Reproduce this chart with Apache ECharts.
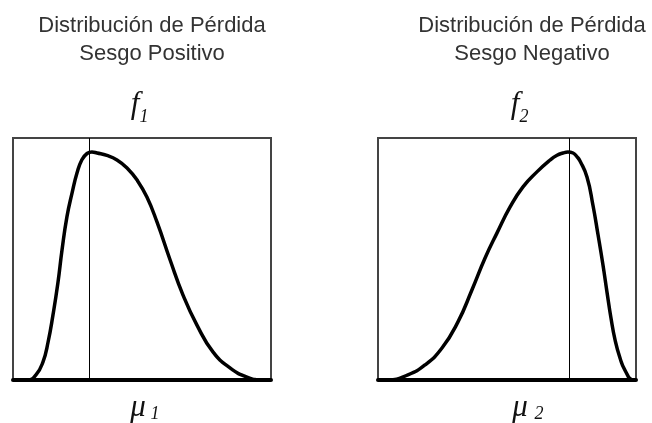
<!DOCTYPE html>
<html>
<head>
<meta charset="utf-8">
<script src="https://cdn.jsdelivr.net/npm/echarts@6/dist/echarts.min.js"></script>
<style>
  html, body { margin: 0; padding: 0; background: #fff; }
  #chart { width: 652px; height: 423px; }
</style>
</head>
<body>
<div id="chart"></div>
<script>
// positive skew (f1) curve, x and y in 0..100 of the box
const posX = [0, 5.8, 8.9, 11.6, 13.6, 15.5, 17.4, 19.0, 20.9, 22.9, 24.8, 26.7, 28.7, 30.6, 32.6, 36.4, 40.3, 44.2, 48.1, 51.9, 55.8, 60.9, 65.9, 71.3, 77.5, 84.1, 90.7, 96.9, 100];
const posY = [0, 0, 2.1, 7.4, 15.7, 26.9, 40.1, 53.7, 67.4, 77.3, 85.5, 91.0, 93.6, 94.2, 93.8, 92.8, 90.9, 87.6, 82.6, 75.6, 65.3, 49.6, 35.1, 22.7, 11.6, 5.0, 1.2, 0, 0];
// negative skew (f2) curve
const negX = [0, 3.9, 11.6, 18.2, 24.8, 31.0, 36.4, 41.5, 46.1, 51.2, 56.2, 61.6, 66.7, 69.4, 71.7, 73.6, 75.6, 77.1, 78.3, 81.0, 83.3, 85.3, 87.2, 88.8, 90.3, 91.9, 93.8, 95.7, 98.8, 100];
const negY = [0, 0, 2.1, 6.2, 13.2, 24.0, 37.2, 50.4, 60.7, 71.5, 79.8, 86.0, 90.9, 92.9, 93.8, 94.2, 93.8, 92.3, 90.5, 83.9, 72.3, 59.9, 47.5, 36.0, 25.6, 16.5, 9.1, 4.1, 0, 0];
// position of the mean marker in each panel
const means = [29.5, 74.0];
const titles = ['Distribución de Pérdida\nSesgo Positivo', 'Distribución de Pérdida\nSesgo Negativo'];

const chart = echarts.init(document.getElementById('chart'));

const pairs = (xs, ys) => xs.map((x, i) => [x, ys[i]]);

const axisX = (idx) => ({
  type: 'value', gridIndex: idx, min: 0, max: 100,
  axisLine: { show: true, onZero: false, lineStyle: { color: '#000', width: 4 } },
  axisTick: { show: false }, axisLabel: { show: false }, splitLine: { show: false },
});
const axisY = (idx) => ({
  type: 'value', gridIndex: idx, min: 0, max: 100,
  axisLine: { show: false }, axisTick: { show: false },
  axisLabel: { show: false }, splitLine: { show: false },
});

const curve = (idx, data, mean) => ({
  type: 'line', xAxisIndex: idx, yAxisIndex: idx,
  data, smooth: 0.5, showSymbol: false, symbol: 'none',
  lineStyle: { color: '#000', width: 3.5 },
  markLine: {
    silent: true, symbol: 'none', label: { show: false },
    lineStyle: { color: '#000', width: 1, type: 'solid' },
    data: [{ xAxis: mean }],
  },
});

const txt = (text, x, y, font, fill) => ({
  type: 'text', x, y,
  style: { text, font, fill: fill || '#111', align: 'center', verticalAlign: 'middle', textAlign: 'center', textVerticalAlign: 'middle', lineHeight: 28 },
});

const sans = '22px "Liberation Sans", Arial, sans-serif';
const big = 'italic 31px "Liberation Serif", "Times New Roman", serif';
const small = 'italic 18px "Liberation Serif", "Times New Roman", serif';

chart.setOption({
  animation: false,
  backgroundColor: '#fff',
  grid: [
    { left: 13, top: 138, width: 258, height: 242, show: true, borderColor: '#444', borderWidth: 2 },
    { left: 378, top: 138, width: 258, height: 242, show: true, borderColor: '#444', borderWidth: 2 },
  ],
  xAxis: [axisX(0), axisX(1)],
  yAxis: [axisY(0), axisY(1)],
  series: [
    curve(0, pairs(posX, posY), means[0]),
    curve(1, pairs(negX, negY), means[1]),
  ],
  graphic: [
    txt(titles[0], 152, 40, sans, '#333'),
    txt(titles[1], 532, 40, sans, '#333'),
    txt('f', 135, 105, big),
    txt('1', 144, 117, small),
    txt('f', 515, 105, big),
    txt('2', 524, 117, small),
    txt('μ', 138, 408, big),
    txt('1', 155, 414, small),
    txt('μ', 520, 408, big),
    txt('2', 539, 414, small),
  ],
});
</script>
</body>
</html>
